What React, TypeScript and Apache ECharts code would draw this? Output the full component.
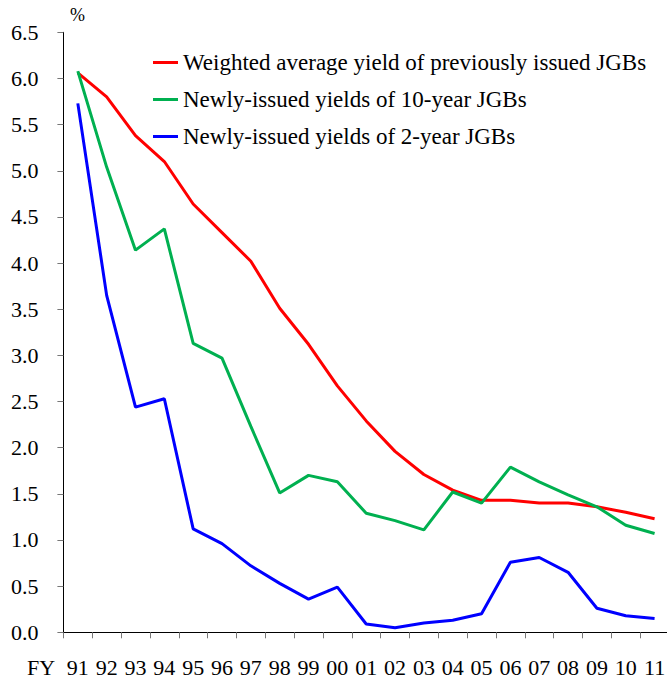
import React, { useEffect, useRef } from "react";
import * as echarts from "echarts";

const categories = ["91","92","93","94","95","96","97","98","99","00","01","02","03","04","05","06","07","08","09","10","11"];
const weightedAvg = [6.06, 5.80, 5.38, 5.10, 4.64, 4.33, 4.02, 3.51, 3.12, 2.67, 2.29, 1.96, 1.71, 1.54, 1.43, 1.43, 1.40, 1.40, 1.36, 1.30, 1.23];
const tenYear = [6.08, 5.04, 4.14, 4.37, 3.13, 2.97, 2.23, 1.51, 1.70, 1.63, 1.29, 1.21, 1.11, 1.52, 1.40, 1.79, 1.63, 1.49, 1.36, 1.16, 1.07];
const twoYear = [5.73, 3.65, 2.44, 2.53, 1.12, 0.96, 0.72, 0.53, 0.36, 0.49, 0.09, 0.05, 0.10, 0.13, 0.20, 0.76, 0.81, 0.65, 0.26, 0.18, 0.15];
const seriesNames = [
  "Weighted average yield of previously issued JGBs",
  "Newly-issued yields of 10-year JGBs",
  "Newly-issued yields of 2-year JGBs",
];

const FONT = "Liberation Serif";

export default function App() {
  const ref = useRef<HTMLDivElement>(null);
  useEffect(() => {
    if (!ref.current) return;
    const chart = echarts.init(ref.current, null, { renderer: "svg" });
    const colors = ["#FF0000", "#00B050", "#0000FF"];
    const datas = [weightedAvg, tenYear, twoYear];
    chart.setOption({
      animation: false,
      backgroundColor: "#ffffff",
      textStyle: { fontFamily: FONT, color: "#000" },
      grid: { left: 63.4, right: 3, top: 32.3, bottom: 49.7, containLabel: false },
      legend: {
        data: seriesNames,
        orient: "vertical",
        left: 148,
        top: 46,
        itemWidth: 25,
        itemHeight: 3,
        itemGap: 14,
        icon: "rect",
        padding: 5,
        textStyle: { fontFamily: FONT, fontSize: 23, color: "#000" },
      },
      xAxis: {
        type: "category",
        data: categories,
        boundaryGap: true,
        axisLine: { lineStyle: { color: "#000", width: 1 } },
        axisTick: { show: true, inside: false, length: 6, lineStyle: { color: "#777" } },
        axisLabel: { fontFamily: FONT, fontSize: 22, color: "#000", margin: 24, interval: 0 },
      },
      yAxis: {
        type: "value",
        min: 0,
        max: 6.5,
        interval: 0.5,
        splitLine: { show: false },
        axisLine: { show: true, lineStyle: { color: "#000", width: 1 } },
        axisTick: { show: true, inside: false, length: 6, lineStyle: { color: "#777" } },
        axisLabel: {
          fontFamily: FONT,
          fontSize: 22,
          color: "#000",
          margin: 25,
          formatter: (v: number) => v.toFixed(1),
        },
      },
      graphic: [
        {
          type: "text",
          left: 70,
          top: 6,
          style: { text: "%", fontFamily: FONT, fontSize: 18, fill: "#000" },
        },
        {
          type: "text",
          left: 27,
          top: 656,
          style: { text: "FY", fontFamily: FONT, fontSize: 22, fill: "#000" },
        },
      ],
      series: datas.map((d, i) => ({
        name: seriesNames[i],
        type: "line",
        data: d,
        symbol: "none",
        lineStyle: { color: colors[i], width: 3 },
        itemStyle: { color: colors[i] },
      })),
    });
    return () => chart.dispose();
  }, []);
  return (
    <div
      ref={ref}
      style={{ position: "fixed", left: 0, top: 0, width: 672, height: 682 }}
    />
  );
}
